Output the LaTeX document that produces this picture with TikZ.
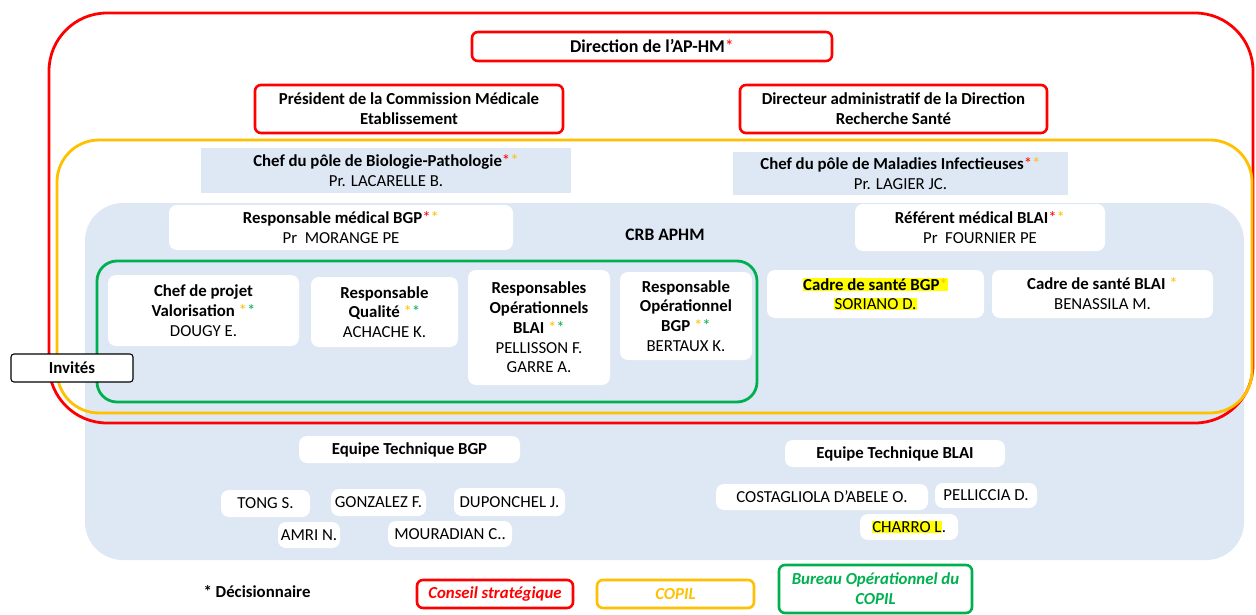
\documentclass[tikz,border=0pt]{standalone}
\usepackage{fontspec}
\setmainfont{Carlito}
\definecolor{apred}{HTML}{FF0000}
\definecolor{apyel}{HTML}{FFC000}
\definecolor{apgrn}{HTML}{00B050}
\definecolor{apblue}{HTML}{DEE8F4}
\definecolor{hlyel}{HTML}{FFFF00}
\newcommand{\starR}{\textcolor{apred}{*}}
\newcommand{\starY}{\textcolor{apyel}{*}}
\newcommand{\starG}{\textcolor{apgrn}{*}}
\newcommand{\hlt}[1]{{\setlength{\fboxsep}{0.5pt}\colorbox{hlyel}{#1}}}
\newcommand{\mybox}[7]{%
  \pgfmathsetmacro{\mybw}{#5-#3}\pgfmathsetmacro{\mybh}{#6-#4}%
  \pgfmathsetmacro{\mycx}{(#3+#5)/2}\pgfmathsetmacro{\mycy}{(#4+#6)/2}%
  \node[#1, minimum width=\mybw pt, minimum height=\mybh pt] (#2) at (\mycx,\mycy) {#7};}
\begin{document}
\begin{tikzpicture}[x=1pt,y=-1pt,
  every node/.style={font=\fontsize{16.8}{19.8}\selectfont, align=center, inner sep=0pt},
  redbox/.style={draw=apred, line width=2.6pt, rounded corners=6pt, fill=white},
  yelbox/.style={draw=apyel, line width=2.6pt, rounded corners=6pt, fill=white},
  grnbox/.style={draw=apgrn, line width=2.6pt, rounded corners=6pt, fill=white},
  wbox/.style={fill=white, rounded corners=8pt},
  bbox/.style={fill=apblue},
  guestbox/.style={draw=black, line width=1.1pt, rounded corners=3pt, fill=white}]
\useasboundingbox[fill=white] (0,0) rectangle (1256,615);
% regions
\fill[apblue, rounded corners=38pt] (85,203) rectangle (1244,560);
\draw[apred, line width=2.8pt, rounded corners=58pt] (49,13) rectangle (1253,423);
\draw[apyel, line width=2.8pt, rounded corners=42pt] (57,140) rectangle (1252,413);
\draw[apgrn, line width=2.8pt, rounded corners=20pt] (97,261) rectangle (757,402);
% strategic council
\mybox{redbox}{dir}{472}{32}{832}{61}{\fontsize{18}{20}\selectfont\textbf{Direction de l’AP-HM}\starR}
\mybox{redbox}{pcme}{255}{85}{563}{133}{\textbf{Président de la Commission Médicale}\\\textbf{Etablissement}}
\mybox{redbox}{drs}{740}{85}{1047}{133}{\textbf{Directeur administratif de la Direction}\\\textbf{Recherche Santé}}
% pole chiefs
\mybox{bbox}{cpbp}{201}{148}{571}{193}{\textbf{Chef du pôle de Biologie-Pathologie}\starR\starY\\Pr. LACARELLE B.}
\mybox{bbox}{cpmi}{733}{152}{1068}{195}{\textbf{Chef du pôle de Maladies Infectieuses}\starR\starY\\Pr. LAGIER JC.}
% medical leads
\mybox{wbox}{rmbgp}{169}{205}{513}{250}{\textbf{Responsable médical BGP}\starR\starY\\Pr\ \ MORANGE PE}
\node (crb) at (665,235) {\fontsize{17.5}{19.5}\selectfont\textbf{CRB APHM}};
\mybox{wbox}{rmblai}{855}{204}{1105}{251}{\textbf{Référent médical BLAI}\starR\starY\\Pr\ \ FOURNIER PE}
% operational bureau
\mybox{wbox}{cpv}{108}{275}{299}{346}{\textbf{Chef de projet}\\\textbf{Valorisation} \starY\starG\\DOUGY E.}
\mybox{wbox}{rq}{311}{277}{458}{347}{\textbf{Responsable}\\\textbf{Qualité} \starY\starG\\ACHACHE K.}
\mybox{wbox}{roblai}{468}{270}{610}{385}{\textbf{Responsables}\\\textbf{Opérationnels}\\\textbf{BLAI} \starY\starG\\PELLISSON F.\\GARRE A.}
\mybox{wbox}{robgp}{620}{272}{752}{360}{\textbf{Responsable}\\\textbf{Opérationnel}\\\textbf{BGP} \starY\starG\\BERTAUX K.}
% health managers
\mybox{wbox}{csbgp}{767}{270}{984}{318}{\hlt{\textbf{Cadre de santé BGP}\starY}\\[-1pt]\hlt{SORIANO D.}}
\mybox{wbox}{csblai}{992}{270}{1213}{318}{\textbf{Cadre de santé BLAI} \starY\\BENASSILA M.}
% guests
\mybox{guestbox}{inv}{11}{354}{133}{382}{\textbf{Invités}}
% technical teams
\mybox{wbox}{etbgp}{299}{436}{520}{463}{\textbf{Equipe Technique BGP}}
\mybox{wbox}{etblai}{785}{440}{1005}{467}{\textbf{Equipe Technique BLAI}}
\mybox{wbox}{tong}{221}{490}{310}{517}{TONG S.}
\mybox{wbox}{gonz}{331}{489}{426}{516}{GONZALEZ F.}
\mybox{wbox}{dupo}{454}{488}{565}{516}{DUPONCHEL J.}
\mybox{wbox}{amri}{278}{522}{340}{548}{AMRI N.}
\mybox{wbox}{mour}{388}{521}{512}{547}{MOURADIAN C..}
\mybox{wbox}{cost}{716}{484}{928}{510}{COSTAGLIOLA D’ABELE O.}
\mybox{wbox}{pell}{935}{483}{1037}{508}{PELLICCIA D.}
\mybox{wbox}{charro}{860}{514}{958}{540}{\hlt{CHARRO L}.}
% legend
\node (dec) at (257,592) {\textbf{* Décisionnaire}};
\mybox{redbox}{lgred}{417}{580}{573}{608}{\textcolor{apred}{\textbf{\textit{Conseil stratégique}}}}
\mybox{yelbox}{lgyel}{597}{580}{754}{608}{\textcolor{apyel}{\textbf{\textit{COPIL}}}}
\mybox{grnbox}{lggrn}{779}{565}{972}{613}{\textcolor{apgrn}{\textbf{\textit{Bureau Opérationnel du}}}\\\textcolor{apgrn}{\textbf{\textit{COPIL}}}}
\end{tikzpicture}
\end{document}
